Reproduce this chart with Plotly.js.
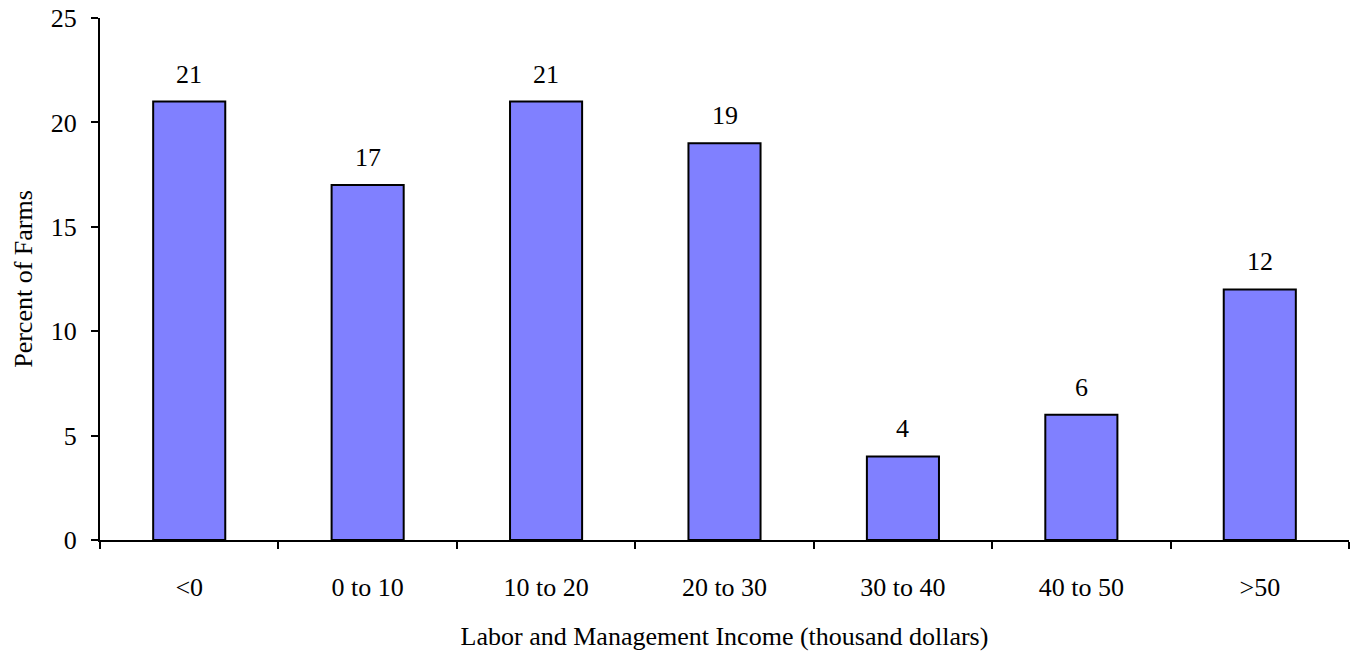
<!DOCTYPE html>
<html>
<head>
<meta charset="utf-8">
<script src="https://cdn.plot.ly/plotly-3.0.1.min.js"></script>
<style>html,body{margin:0;padding:0;background:#fff;}#chart{width:1360px;height:651px;}</style>
</head>
<body>
<div id="chart"></div>
<script>
var categories = ["<0", "0 to 10", "10 to 20", "20 to 30", "30 to 40", "40 to 50", ">50"];
var percentFarms = [21, 17, 21, 19, 4, 6, 12];
var yTickValues = [0, 5, 10, 15, 20, 25];

var font = "'Liberation Serif', 'Times New Roman', serif";
var fs = 26;

var trace = {
  type: "bar",
  x: categories,
  y: percentFarms,
  marker: {color: "#8080FF", line: {color: "#000000", width: 2}},
  hoverinfo: "x+y"
};

var annotations = categories.map(function (c, i) {
  return {
    x: c, y: percentFarms[i], text: String(percentFarms[i]),
    showarrow: false, yanchor: "bottom", yshift: 11,
    font: {family: font, size: fs, color: "#000"}
  };
});

var layout = {
  width: 1360, height: 651,
  margin: {l: 100, r: 11, t: 18, b: 111},
  paper_bgcolor: "#fff", plot_bgcolor: "#fff",
  font: {family: font, size: fs, color: "#000"},
  bargap: 0.596,
  showlegend: false,
  xaxis: {
    type: "category",
    showline: true, linecolor: "#000", linewidth: 2,
    ticks: "outside", tickson: "boundaries", ticklen: 7, tickwidth: 2, tickcolor: "#000",
    ticklabelstandoff: 23,
    showgrid: false, zeroline: false,
    tickfont: {family: font, size: fs, color: "#000"},
    title: {text: "Labor and Management Income (thousand dollars)", font: {family: font, size: fs, color: "#000"}, standoff: 36}
  },
  yaxis: {
    range: [0, 25], tickvals: yTickValues, ticktext: yTickValues.map(String),
    showline: true, linecolor: "#000", linewidth: 2,
    ticks: "outside", ticklen: 7, tickwidth: 2, tickcolor: "#000",
    ticklabelstandoff: 9,
    showgrid: false, zeroline: false,
    tickfont: {family: font, size: fs, color: "#000"},
    title: {text: "Percent of Farms", font: {family: font, size: fs, color: "#000"}, standoff: 11}
  },
  annotations: annotations
};

Plotly.newPlot("chart", [trace], layout, {displayModeBar: false, staticPlot: true});
</script>
</body>
</html>
